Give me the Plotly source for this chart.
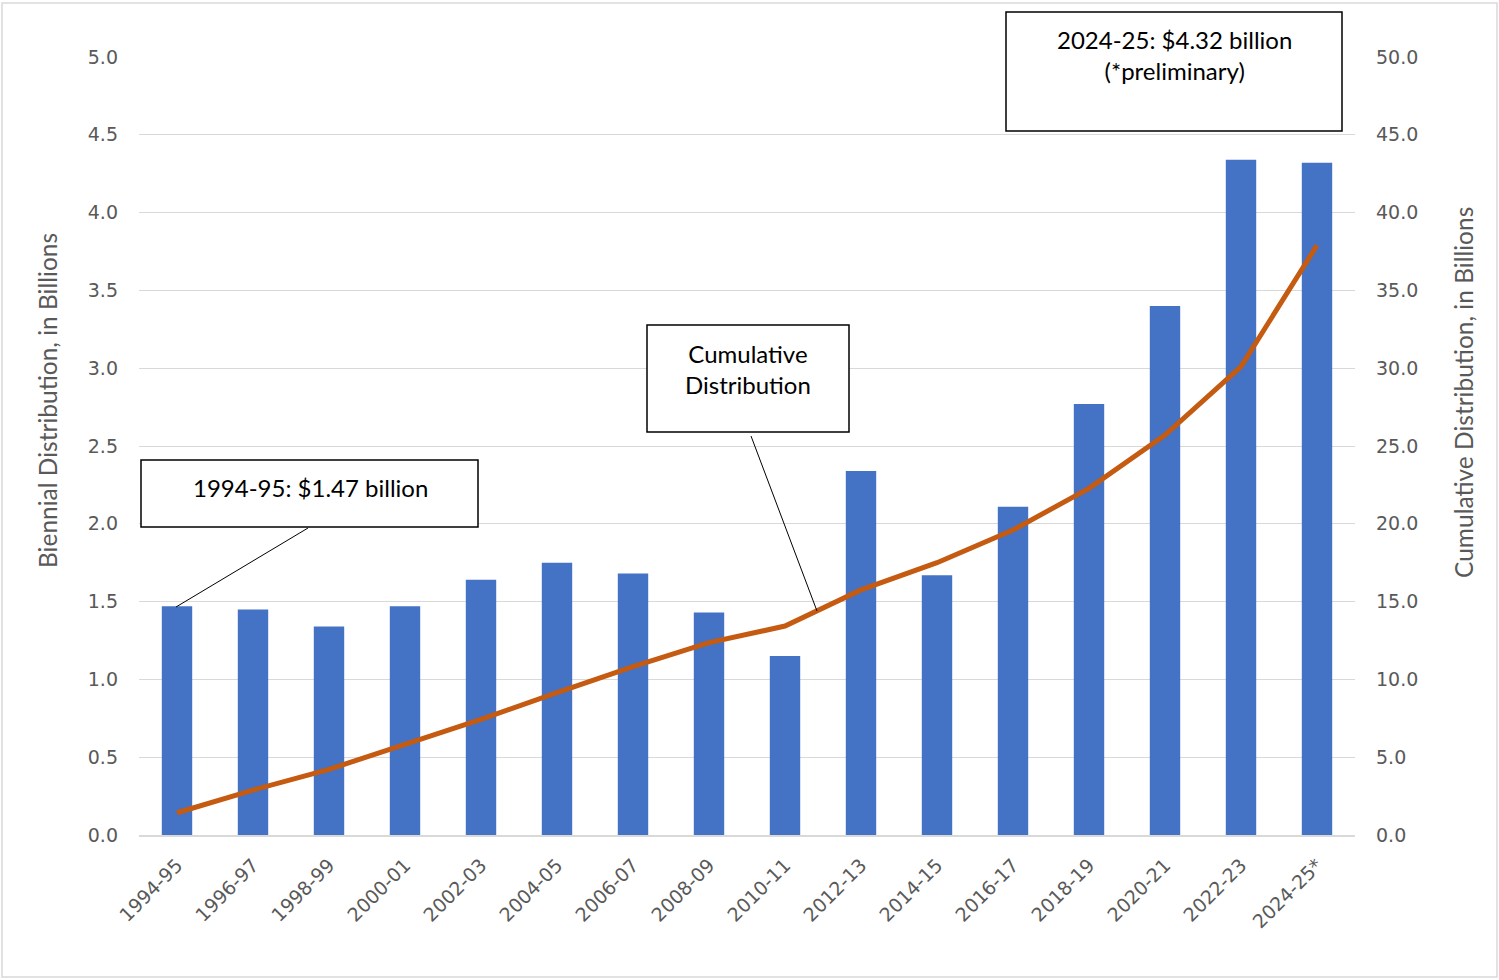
import plotly.graph_objects as go

# ---- data ----
periods = ["1994-95", "1996-97", "1998-99", "2000-01", "2002-03", "2004-05",
           "2006-07", "2008-09", "2010-11", "2012-13", "2014-15", "2016-17",
           "2018-19", "2020-21", "2022-23", "2024-25*"]
biennial = [1.47, 1.45, 1.34, 1.47, 1.64, 1.75, 1.68, 1.43, 1.15, 2.34,
            1.67, 2.11, 2.77, 3.40, 4.34, 4.32]
cumulative = [1.43, 2.89, 4.22, 5.83, 7.43, 9.15, 10.82, 12.36, 13.43, 15.75,
              17.5, 19.6, 22.28, 25.7, 30.1, 37.9]
left_ticks = [0, 0.5, 1.0, 1.5, 2.0, 2.5, 3.0, 3.5, 4.0, 4.5, 5.0]
right_ticks = [0, 5, 10, 15, 20, 25, 30, 35, 40, 45, 50]

W, H = 1499, 980
L, R, T, B = 139, 1355, 57, 835


def px(x):
    return (x - L) / (R - L)


def py(y):
    return (B - y) / (B - T)


TICK_FONT = dict(family="DejaVu Sans", size=19, color="#595959")
BOX_FONT = dict(family="Lato, Open Sans, sans-serif", size=24, color="#000000")
TITLE_FONT = dict(family="Lato, Open Sans, sans-serif", size=24.5, color="#595959")

fig = go.Figure()
fig.add_trace(go.Bar(x=periods, y=biennial, marker=dict(color="#4472C4", line=dict(width=0)),
                     name="Biennial", yaxis="y"))
fig.add_trace(go.Scatter(x=periods, y=cumulative, mode="lines",
                         line=dict(color="#C55A11", width=5, shape="linear"),
                         name="Cumulative", yaxis="y2"))

shapes = []
annotations = []


def box(x0, y0, x1, y1):
    shapes.append(dict(type="rect", xref="paper", yref="paper",
                       x0=px(x0), x1=px(x1), y0=py(y0), y1=py(y1),
                       line=dict(color="#000000", width=1.5), fillcolor="white", layer="above"))


def leader(x0, y0, x1, y1):
    shapes.append(dict(type="line", xref="paper", yref="paper",
                       x0=px(x0), x1=px(x1), y0=py(y0), y1=py(y1),
                       line=dict(color="#000000", width=1), layer="above"))


def text(x, y, s):
    annotations.append(dict(xref="paper", yref="paper", x=px(x), y=py(y), text=s,
                            showarrow=False, xanchor="center", yanchor="middle",
                            font=BOX_FONT, align="center"))


# outer chart border
shapes.append(dict(type="rect", xref="paper", yref="paper",
                   x0=px(2), x1=px(1497), y0=py(3), y1=py(977),
                   line=dict(color="#D9D9D9", width=1.5), layer="below"))

box(141, 460, 478, 527)
text(310, 487, "1994-95: $1.47 billion")
leader(308, 528, 176, 607)

box(647, 325, 849, 432)
text(748, 369, "Cumulative<br>Distribution")
leader(751, 436, 817, 611)

box(1006, 12, 1342, 131)
text(1174, 55, "2024-25: $4.32 billion<br>(*preliminary)")

annotations.append(dict(xref="paper", yref="paper", x=px(47), y=py(401),
                        text="Biennial Distribution, in Billions", textangle=-90,
                        showarrow=False, xanchor="center", yanchor="middle", font=TITLE_FONT))
annotations.append(dict(xref="paper", yref="paper", x=px(1463), y=py(393),
                        text="Cumulative Distribution, in Billions", textangle=-90,
                        showarrow=False, xanchor="center", yanchor="middle", font=TITLE_FONT))

fig.update_layout(
    width=W, height=H,
    margin=dict(l=L, r=W - R, t=T, b=H - B, autoexpand=False),
    paper_bgcolor="white", plot_bgcolor="white",
    showlegend=False,
    bargap=0.6,
    shapes=shapes,
    annotations=annotations,
    xaxis=dict(type="category", tickangle=-45, tickfont=TICK_FONT, showgrid=False,
               showline=True, linecolor="#D9D9D9", linewidth=1.5, ticks="",
               ticklabelstandoff=10),
    yaxis=dict(range=[0, 5], tickvals=left_ticks, tickformat=".1f", tickfont=TICK_FONT,
               showgrid=True, gridcolor="#D9D9D9", gridwidth=1.3, zeroline=False,
               showline=False, ticks="", ticklabelstandoff=20),
    yaxis2=dict(range=[0, 50], tickvals=right_ticks, tickformat=".1f", tickfont=TICK_FONT,
                overlaying="y", side="right", showgrid=False, zeroline=False,
                showline=False, ticks="", ticklabelstandoff=20),
)

fig.write_html("out.html", config={"displayModeBar": False},
               post_script="document.body.style.margin='0';document.body.style.overflow='hidden';")
